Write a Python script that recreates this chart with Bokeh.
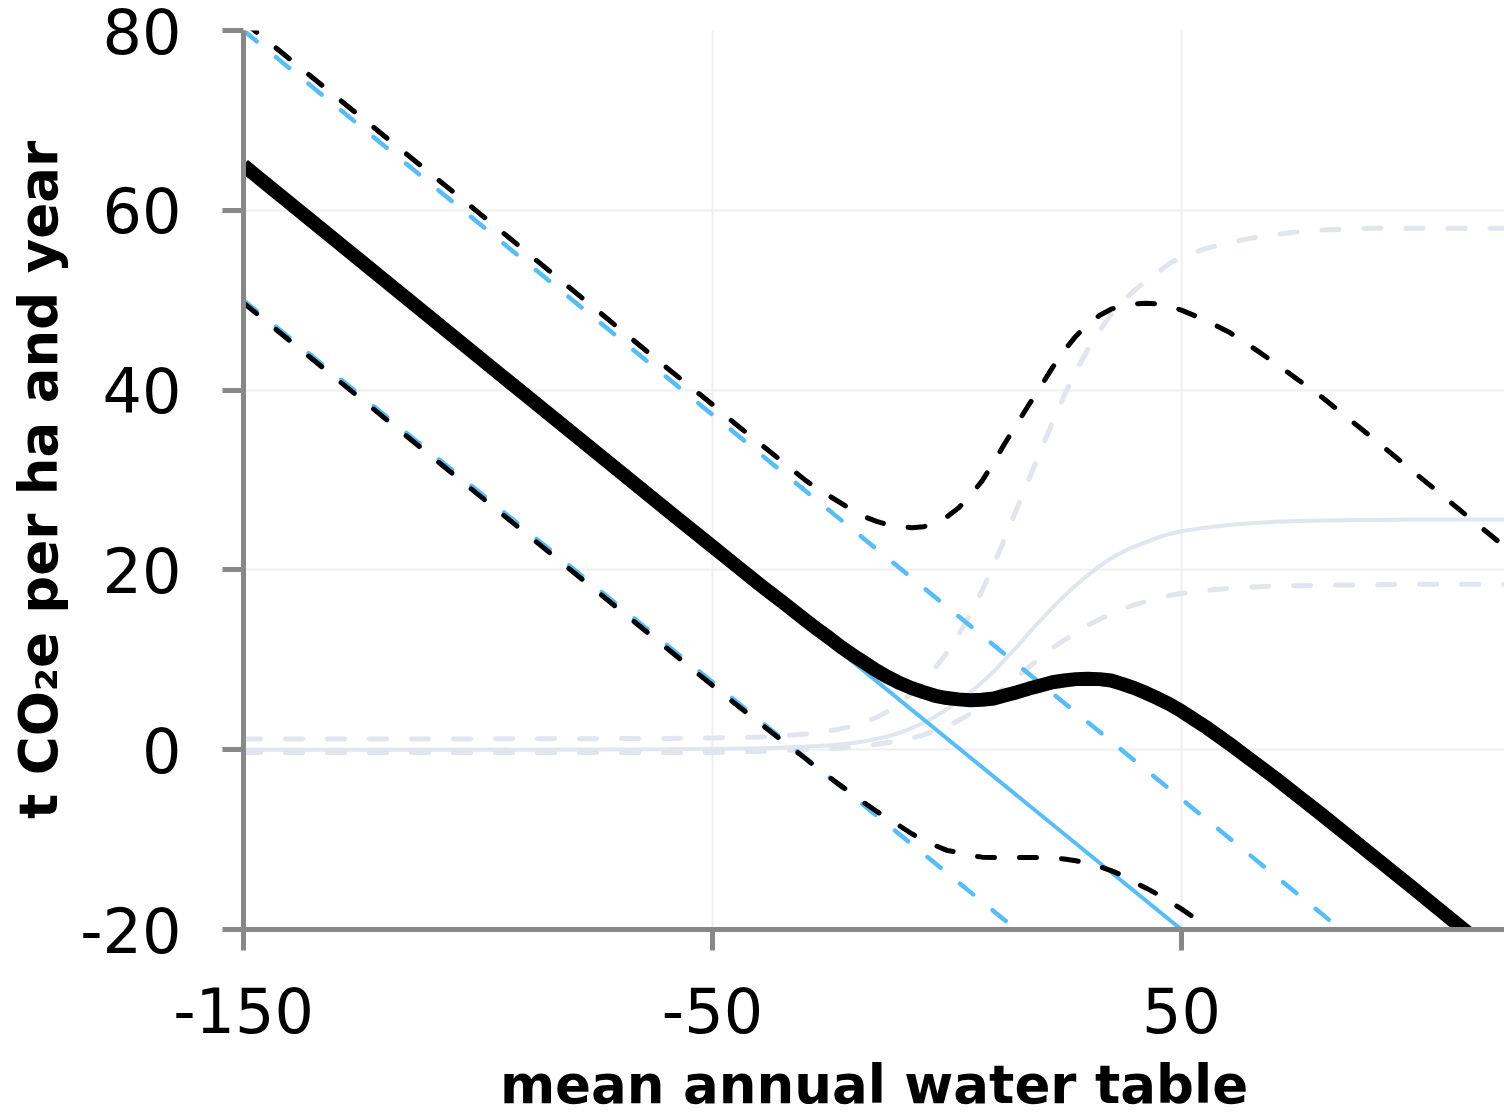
from bokeh.plotting import figure
from bokeh.models import Range1d, FixedTicker
from bokeh.embed import file_html
from bokeh.resources import INLINE

# ---- data ----
X_TICKS = [-150, -50, 50]
Y_TICKS = [-20, 0, 20, 40, 60, 80]
X_LABEL = "mean annual water table"
Y_LABEL = "t CO\u2082e per ha and year"

water_table = [-150, -100, -60, -50, -45, -40, -35,
               -30, -27.5, -25, -22.5, -20, -17.5, -15, -12.5, -10, -7.5, -5, -2.5,
               0, 2.5, 5, 7.5, 10, 12.5, 15, 17.5, 20, 22.5, 25, 27.5, 30, 32.5,
               35, 37.5, 40, 42.5, 45, 47.5, 50,
               55, 60, 65, 70, 75, 80, 90, 100, 110, 118.9]

# methane (grey)
ch4_mean = [0.0, 0.0, 0.05, 0.1, 0.12, 0.15, 0.25,
            0.35, 0.42, 0.5, 0.6, 0.75, 0.95, 1.2, 1.5, 1.9, 2.4, 3.0, 3.7,
            4.5, 5.4, 6.4, 7.5, 8.7, 10.1, 11.5, 13.0, 14.4, 15.8, 17.1, 18.3, 19.4, 20.4,
            21.3, 22.0, 22.6, 23.1, 23.6, 24.0, 24.3,
            24.7, 25.0, 25.2, 25.35, 25.45, 25.5, 25.55, 25.6, 25.6, 25.6]
ch4_upper = [1.2, 1.2, 1.25, 1.3, 1.35, 1.4, 1.55,
             1.75, 1.9, 2.1, 2.35, 2.65, 3.05, 3.6, 4.3, 5.2, 6.3, 7.6, 9.1,
             10.8, 12.8, 15.1, 17.7, 20.6, 23.7, 26.9, 30.1, 33.3, 36.4, 39.4, 42.1, 44.5, 46.6,
             48.4, 49.9, 51.1, 52.2, 53.1, 54.1, 54.8,
             55.7, 56.4, 56.9, 57.3, 57.6, 57.8, 58.0, 58.0, 58.0, 58.0]
ch4_lower = [-0.3, -0.3, -0.3, -0.3, -0.25, -0.2, -0.1,
             0.0, 0.05, 0.1, 0.2, 0.3, 0.45, 0.6, 0.8, 1.05, 1.3, 1.65, 2.1,
             2.6, 3.25, 4.0, 4.9, 5.9, 7.0, 8.1, 9.2, 10.3, 11.3, 12.2, 13.0, 13.8, 14.5,
             15.1, 15.65, 16.1, 16.5, 16.85, 17.15, 17.4,
             17.7, 17.95, 18.1, 18.2, 18.25, 18.3, 18.35, 18.4, 18.4, 18.4]

# carbon dioxide (blue, straight lines)
co2_mean_x = [-150, 50]
co2_mean_y = [65, -20]
co2_upper_x = [-150, 84]
co2_upper_y = [80, -20]
co2_lower_x = [-150, 14.8]
co2_lower_y = [50, -20]

# total (black)
total_mean = [65.0, 43.75, 26.8, 22.6, 20.5, 18.4, 16.4,
              14.35, 13.35, 12.4, 11.4, 10.5, 9.65, 8.8, 8.05, 7.4, 6.85, 6.4, 6.0,
              5.75, 5.6, 5.5, 5.55, 5.7, 6.05, 6.4, 6.8, 7.15, 7.5, 7.7, 7.85, 7.9, 7.85,
              7.7, 7.3, 6.85, 6.3, 5.7, 5.05, 4.3,
              2.6, 0.75, -1.2, -3.15, -5.2, -7.25, -11.45, -15.65, -19.9, -23.7]
total_upper = [81.0, 59.8, 42.6, 38.4, 36.2, 34.1, 32.0,
               29.9, 29.0, 28.2, 27.4, 26.6, 25.9, 25.4, 25.0, 24.8, 24.7, 24.8, 25.2,
               25.9, 26.9, 28.3, 29.9, 32.0, 34.2, 36.3, 38.4, 40.4, 42.5, 44.4, 46.0, 47.3, 48.3,
               49.0, 49.4, 49.6, 49.65, 49.6, 49.3, 48.9,
               47.8, 46.5, 44.8, 43.0, 41.1, 39.2, 35.0, 30.7, 26.4, 22.6]
total_lower_x = water_table[:42]
total_lower = [49.7, 28.4, 11.4, 7.15, 5.05, 3.0, 0.95,
               -1.05, -2.1, -3.1, -4.05, -5.0, -5.95, -6.85, -7.7, -8.5, -9.35, -10.05, -10.65,
               -11.2, -11.45, -11.8, -11.95, -12.0, -12.0, -12.0, -12.0, -12.0, -12.05, -12.15, -12.35, -12.65, -13.0,
               -13.45, -14.0, -14.75, -15.4, -16.1, -16.9, -17.7,
               -19.5, -21.4]

GREY = "#e1e5ee"
BLUE = "#58bdf5"
BLACK = "#000000"
DASH = "17 25"

p = figure(width=1504, height=1118, title=None,
           x_range=Range1d(-150, 118.9), y_range=Range1d(-20, 80),
           output_backend="svg", toolbar_location=None,
           min_border_left=243, min_border_right=0, min_border_top=30, min_border_bottom=189)

p.outline_line_color = None
p.background_fill_color = "white"
p.border_fill_color = "white"

# grey methane curves
p.line(water_table, ch4_upper, line_color=GREY, line_width=5, line_dash=DASH, line_cap="round")
p.line(water_table, ch4_lower, line_color=GREY, line_width=5, line_dash=DASH, line_cap="round")
p.line(water_table, ch4_mean, line_color=GREY, line_width=4)

# blue CO2 lines
p.line(co2_upper_x, co2_upper_y, line_color=BLUE, line_width=4.5, line_dash=DASH, line_cap="round")
p.line(co2_lower_x, co2_lower_y, line_color=BLUE, line_width=4.5, line_dash=DASH, line_cap="round")
p.line(co2_mean_x, co2_mean_y, line_color=BLUE, line_width=4)

# black totals
p.line(water_table, total_upper, line_color=BLACK, line_width=5, line_dash=DASH, line_cap="round")
p.line(total_lower_x, total_lower, line_color=BLACK, line_width=5, line_dash=DASH, line_cap="round")
p.line(water_table, total_mean, line_color=BLACK, line_width=14, line_join="round")

# axes
p.xaxis.ticker = FixedTicker(ticks=X_TICKS)
p.yaxis.ticker = FixedTicker(ticks=Y_TICKS)
p.xaxis.major_label_overrides = {t: str(t) for t in X_TICKS}
p.yaxis.major_label_overrides = {t: str(t) for t in Y_TICKS}
for ax in (p.xaxis[0], p.yaxis[0]):
    ax.axis_line_color = "#888888"
    ax.axis_line_width = 5
    ax.major_tick_line_color = "#888888"
    ax.major_tick_line_width = 5
    ax.major_tick_out = 21
    ax.major_tick_in = 0
    ax.minor_tick_line_color = None
    ax.major_label_text_font = "DejaVu Sans"
    ax.major_label_text_font_size = "62px"
    ax.major_label_text_color = "#000000"
    ax.axis_label_text_font = "DejaVu Sans"
    ax.axis_label_text_font_style = "bold"
    ax.axis_label_text_font_size = "53px"
    ax.axis_label_text_color = "#000000"

p.xaxis.axis_label = X_LABEL
p.yaxis.axis_label = Y_LABEL
p.xaxis.major_label_standoff = 36
p.xaxis.axis_label_standoff = 18
p.yaxis.major_label_standoff = 41
p.yaxis.axis_label_standoff = 8

p.xgrid.grid_line_color = "#efefef"
p.xgrid.grid_line_width = 2
p.ygrid.grid_line_color = "#efefef"
p.ygrid.grid_line_width = 2

open("out.html", "w").write(file_html(p, INLINE))
